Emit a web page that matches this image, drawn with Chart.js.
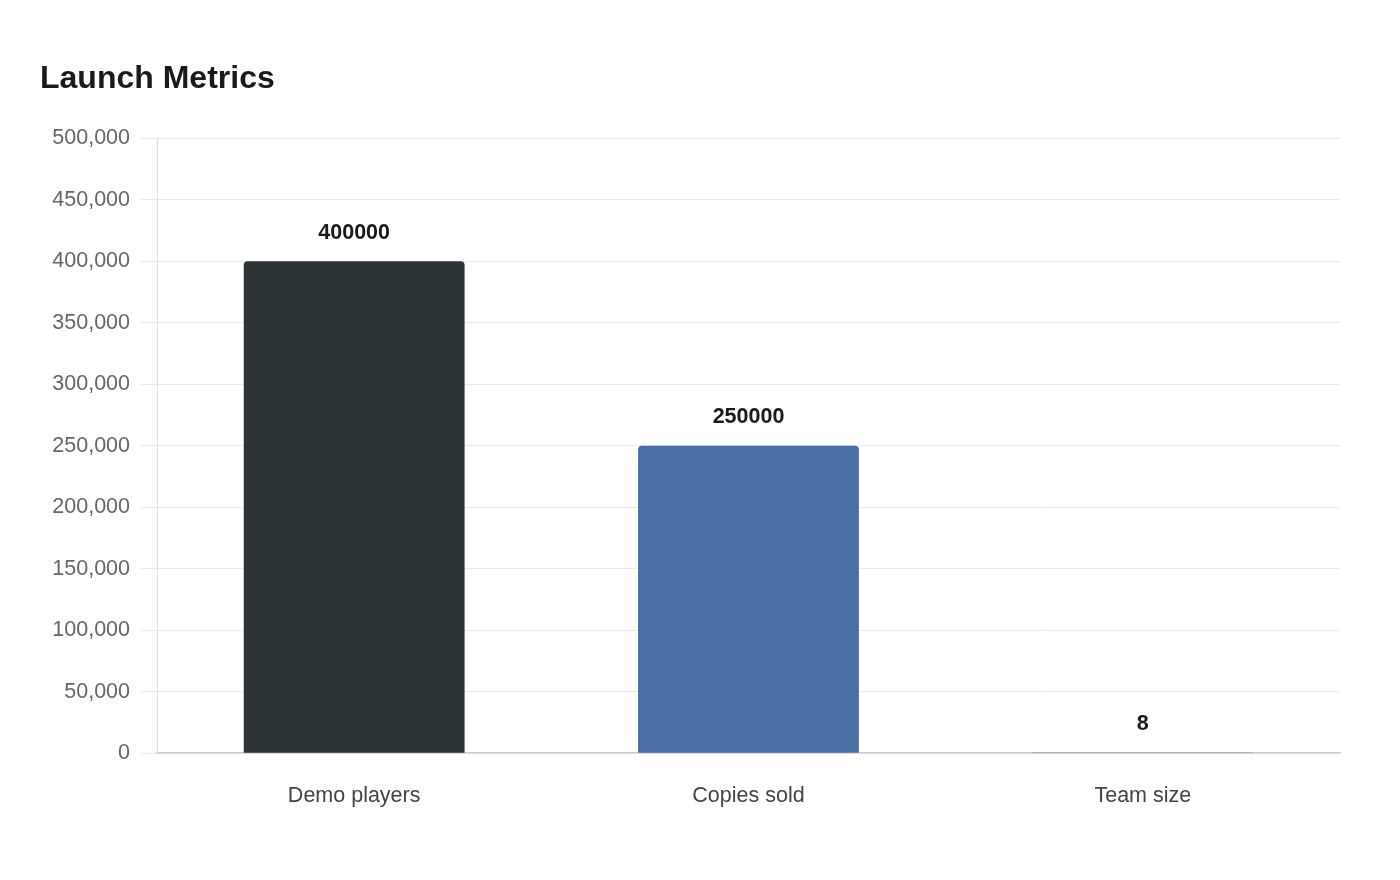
<!DOCTYPE html>
<html>
<head>
<meta charset="utf-8">
<title>Launch Metrics</title>
<script src="https://cdn.jsdelivr.net/npm/chart.js@4"></script>
<style>
  html, body { margin: 0; padding: 0; background: #fff; }
  #wrap { width: 1400px; height: 880px; }
</style>
</head>
<body>
<div id="wrap"><canvas id="chart"></canvas></div>
<script>
// data
const categories = ['Demo players', 'Copies sold', 'Team size'];
const values = [400000, 250000, 8];
const barColors = ['#2d3436', '#4a6fa5', '#4a6fa5'];

// value labels above the bars
const valueLabels = {
  id: 'valueLabels',
  afterDatasetsDraw(chart) {
    const ctx = chart.ctx;
    const meta = chart.getDatasetMeta(0);
    ctx.save();
    ctx.font = 'bold 21.5px "Liberation Sans", Arial, sans-serif';
    ctx.fillStyle = '#1a1a1a';
    ctx.textAlign = 'center';
    ctx.textBaseline = 'bottom';
    meta.data.forEach((bar, i) => {
      ctx.fillText(String(values[i]), bar.x, bar.y - 18);
    });
    ctx.restore();
  }
};

Chart.defaults.font.family = '"Liberation Sans", Arial, sans-serif';

new Chart(document.getElementById('chart').getContext('2d'), {
  type: 'bar',
  data: {
    labels: categories,
    datasets: [{
      data: values,
      backgroundColor: barColors,
      borderRadius: { topLeft: 4, topRight: 4 },
      borderSkipped: 'bottom',
      categoryPercentage: 0.7,
      barPercentage: 0.8
    }]
  },
  options: {
    responsive: true,
    maintainAspectRatio: false,
    animation: false,
    layout: { padding: { left: 40, right: 60, top: 60, bottom: 49 } },
    plugins: {
      legend: { display: false },
      tooltip: { enabled: false },
      title: {
        display: true,
        text: 'Launch Metrics',
        align: 'start',
        color: '#1a1a1a',
        font: { size: 32, weight: 'bold' },
        padding: { top: 0, bottom: 40 }
      }
    },
    scales: {
      x: {
        grid: { display: false },
        border: { color: '#cccccc', width: 1.5 },
        ticks: { color: '#444444', font: { size: 21.5 }, padding: 22 }
      },
      y: {
        min: 0,
        max: 500000,
        afterFit: scale => { scale.width = 117; },
        ticks: {
          stepSize: 50000,
          color: '#666666',
          font: { size: 21.5 },
          padding: 11,
          callback: v => v.toLocaleString('en-US')
        },
        grid: { color: '#eaeaea', tickLength: 16 },
        border: { color: '#dddddd' }
      }
    }
  },
  plugins: [valueLabels]
});
</script>
</body>
</html>
